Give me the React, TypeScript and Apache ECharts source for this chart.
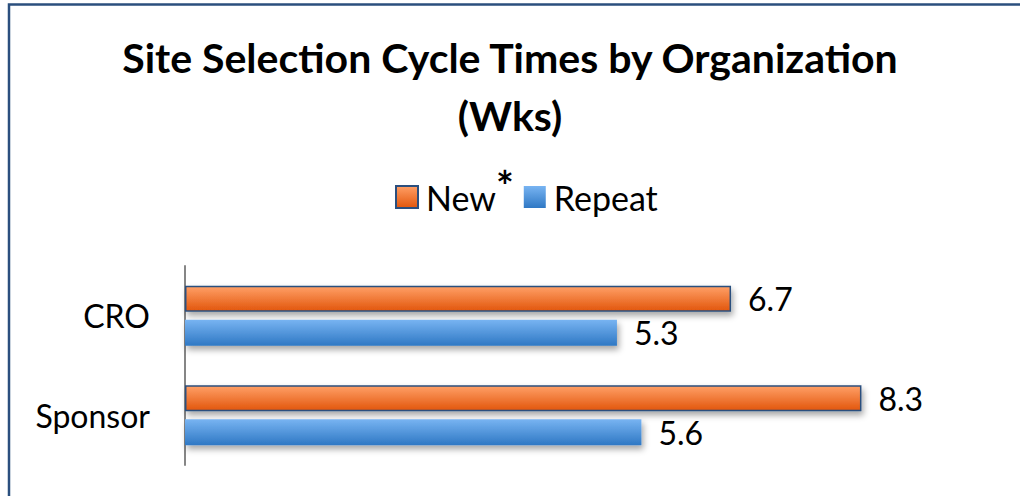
import React, { useEffect, useRef } from "react";
import * as echarts from "echarts";

const categories = ["CRO", "Sponsor"];
const newValues = [6.7, 8.3];
const repeatValues = [5.3, 5.6];
const seriesNames = ["New", "Repeat"];
const titleText = "Site Selection Cycle Times by Organization\n(Wks)";

const FONT = "Lato, 'Open Sans', sans-serif";

export default function App() {
  const ref = useRef<HTMLDivElement>(null);
  useEffect(() => {
    document.body.style.margin = "0";
    if (!ref.current) return;
    const chart = echarts.init(ref.current, undefined, { renderer: "svg" });
    const orange = new echarts.graphic.LinearGradient(0, 0, 0, 1, [
      { offset: 0, color: "#ff9f66" },
      { offset: 1, color: "#e2560c" },
    ]);
    const blue = new echarts.graphic.LinearGradient(0, 0, 0, 1, [
      { offset: 0, color: "#78b4f2" },
      { offset: 1, color: "#2f78c4" },
    ]);
    const shadow = {
      shadowBlur: 6,
      shadowOffsetX: 2,
      shadowOffsetY: 4,
      shadowColor: "rgba(0,0,0,0.35)",
    };
    const label = {
      show: true,
      position: "right" as const,
      distance: 17,
      fontSize: 32,
      color: "#000",
      fontFamily: FONT,
    };
    chart.setOption({
      animation: false,
      backgroundColor: "#fff",
      textStyle: { fontFamily: FONT },
      title: {
        text: titleText,
        left: "center",
        top: 23,
        textStyle: {
          fontSize: 41,
          fontWeight: "bold",
          lineHeight: 58,
          color: "#000",
          fontFamily: FONT,
        },
      },
      legend: {
        left: 390,
        top: 160,
        icon: "rect",
        itemWidth: 22,
        itemHeight: 22,
        itemGap: 10,
        data: seriesNames,
        formatter: (name: string) => (name === seriesNames[0] ? name + "{s|*}" : name),
        textStyle: {
          fontSize: 34,
          lineHeight: 64,
          color: "#000",
          fontFamily: FONT,
          padding: [0, 0, 0, 3],
          rich: {
            s: {
              fontSize: 42,
              fontWeight: "bold",
              color: "#000",
              fontFamily: FONT,
              lineHeight: 20,
              verticalAlign: "top",
            },
          },
        },
      },
      graphic: [
        {
          type: "rect",
          shape: { x: 9, y: 4.5, width: 1200, height: 800 },
          style: { fill: "none", stroke: "#2b4f7e", lineWidth: 2.5 },
          silent: true,
        },
      ],
      grid: { left: 185, right: 20, top: 266, height: 199, containLabel: false },
      xAxis: {
        type: "value",
        min: 0,
        max: 10,
        show: false,
      },
      yAxis: {
        type: "category",
        data: categories,
        inverse: true,
        axisLine: { show: true, lineStyle: { color: "#868686", width: 2 } },
        axisTick: { show: false },
        axisLabel: { fontSize: 32, color: "#000", margin: 35, fontFamily: FONT },
      },
      series: [
        {
          name: seriesNames[0],
          type: "bar",
          data: newValues,
          barWidth: 26,
          barGap: "30%",
          itemStyle: { color: orange, borderColor: "#2b4f7e", borderWidth: 1.5, ...shadow },
          label,
        },
        {
          name: seriesNames[1],
          type: "bar",
          data: repeatValues,
          barWidth: 26,
          itemStyle: { color: blue, ...shadow },
          label,
        },
      ],
    });
    return () => chart.dispose();
  }, []);
  return <div ref={ref} style={{ width: 1020, height: 496 }} />;
}
